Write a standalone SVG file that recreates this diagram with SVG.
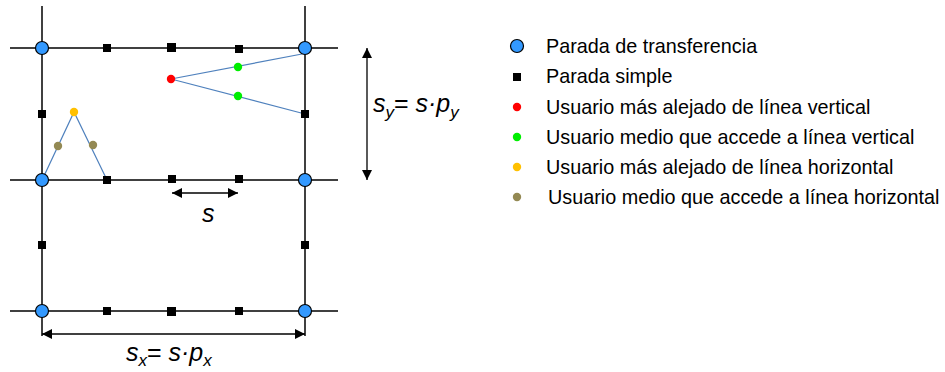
<svg xmlns="http://www.w3.org/2000/svg" width="945" height="372" viewBox="0 0 945 372">
  <defs>
    <marker id="ah" viewBox="0 0 10 10" refX="10" refY="5" markerWidth="10" markerHeight="10" markerUnits="userSpaceOnUse" orient="auto-start-reverse">
      <path d="M0,0 L10,5 L0,10 z" fill="#000"/>
    </marker>
    <style>
      .grid { stroke: #000; stroke-width: 1.5; fill: none; }
      .walk { stroke: #4F81BD; stroke-width: 1.2; fill: none; }
      .dim { stroke: #000; stroke-width: 1.3; fill: none; marker-start: url(#ah); marker-end: url(#ah); }
      .transfer { fill: #3399FF; stroke: #000; stroke-width: 1.2; }
      .simple { fill: #000; }
      .farV { fill: #FF0000; }
      .midV { fill: #00EE00; }
      .farH { fill: #FFC000; }
      .midH { fill: #938953; }
      .leg { font-family: "Liberation Sans", Arial, sans-serif; font-size: 19.8px; fill: #000; }
      .math { font-family: "Liberation Sans", Arial, sans-serif; font-style: italic; font-size: 25px; fill: #000; }
    </style>
  </defs>

  <!-- street grid -->
  <g id="grid">
    <line class="grid" x1="10" y1="48" x2="338" y2="48"/>
    <line class="grid" x1="10" y1="180" x2="338" y2="180"/>
    <line class="grid" x1="10" y1="311" x2="338" y2="311"/>
    <line class="grid" x1="42" y1="6" x2="42" y2="336"/>
    <line class="grid" x1="305" y1="6" x2="305" y2="336"/>
  </g>

  <!-- walking paths and dimension arrows -->
  <g id="connectors">
    <polyline class="walk" points="302,54 171,79 305,114"/>
    <polyline class="walk" points="44,176 74,112 107,180"/>
    <line class="dim" x1="172" y1="193" x2="238" y2="193"/>
    <line class="dim" x1="42" y1="334" x2="305" y2="334"/>
    <line class="dim" x1="367" y1="48" x2="367" y2="180"/>
  </g>

  <!-- simple stops -->
  <g id="simple-stops">
    <rect class="simple" x="103" y="44" width="8" height="8"/>
    <rect class="simple" x="167" y="43" width="9" height="9"/>
    <rect class="simple" x="235" y="45" width="8" height="8"/>
    <rect class="simple" x="103" y="176" width="8" height="8"/>
    <rect class="simple" x="168" y="175" width="8" height="8"/>
    <rect class="simple" x="235" y="175" width="8" height="8"/>
    <rect class="simple" x="103" y="307" width="8" height="8"/>
    <rect class="simple" x="167" y="307" width="9" height="9"/>
    <rect class="simple" x="235" y="307" width="8" height="8"/>
    <rect class="simple" x="38" y="110" width="8" height="8"/>
    <rect class="simple" x="38" y="241" width="8" height="8"/>
    <rect class="simple" x="301" y="110" width="8" height="8"/>
    <rect class="simple" x="301" y="241" width="8" height="8"/>
  </g>

  <!-- transfer stops -->
  <g id="transfer-stops">
    <circle class="transfer" cx="42" cy="48" r="6.5"/>
    <circle class="transfer" cx="305" cy="48" r="6.5"/>
    <circle class="transfer" cx="42" cy="180" r="6.5"/>
    <circle class="transfer" cx="305" cy="180" r="6.5"/>
    <circle class="transfer" cx="42" cy="311" r="6.5"/>
    <circle class="transfer" cx="305" cy="311" r="6.5"/>
  </g>

  <!-- users -->
  <g id="users">
    <circle class="farV" cx="171" cy="79" r="4.2"/>
    <circle class="midV" cx="238" cy="67" r="4.2"/>
    <circle class="midV" cx="238" cy="96" r="4.2"/>
    <circle class="farH" cx="74" cy="112" r="4.2"/>
    <circle class="midH" cx="58" cy="146" r="4.2"/>
    <circle class="midH" cx="93" cy="145" r="4.2"/>
  </g>

  <!-- dimension labels -->
  <g id="labels">
    <text class="math" x="202" y="222">s</text>
    <text class="math" x="373" y="112">s<tspan font-size="17" dy="6">y</tspan><tspan dy="-6" font-style="normal">= </tspan>s·p<tspan font-size="17" dy="6">y</tspan></text>
    <text class="math" x="126" y="361">s<tspan font-size="17" dy="5">x</tspan><tspan dy="-5" font-style="normal">= </tspan>s·p<tspan font-size="17" dy="5">x</tspan></text>
  </g>

  <!-- legend -->
  <g id="legend">
    <circle class="transfer" cx="517" cy="46" r="6.5"/>
    <text class="leg" x="546" y="53">Parada de transferencia</text>
    <rect class="simple" x="513" y="73" width="8" height="8"/>
    <text class="leg" x="546" y="83">Parada simple</text>
    <circle class="farV" cx="517" cy="107" r="4.2"/>
    <text class="leg" x="546" y="114">Usuario más alejado de línea vertical</text>
    <circle class="midV" cx="517" cy="137" r="4.2"/>
    <text class="leg" x="546" y="144">Usuario medio que accede a línea vertical</text>
    <circle class="farH" cx="517" cy="167" r="4.2"/>
    <text class="leg" x="546" y="174">Usuario más alejado de línea horizontal</text>
    <circle class="midH" cx="517" cy="197" r="4.2"/>
    <text class="leg" x="548" y="204">Usuario medio que accede a línea horizontal</text>
  </g>
</svg>
